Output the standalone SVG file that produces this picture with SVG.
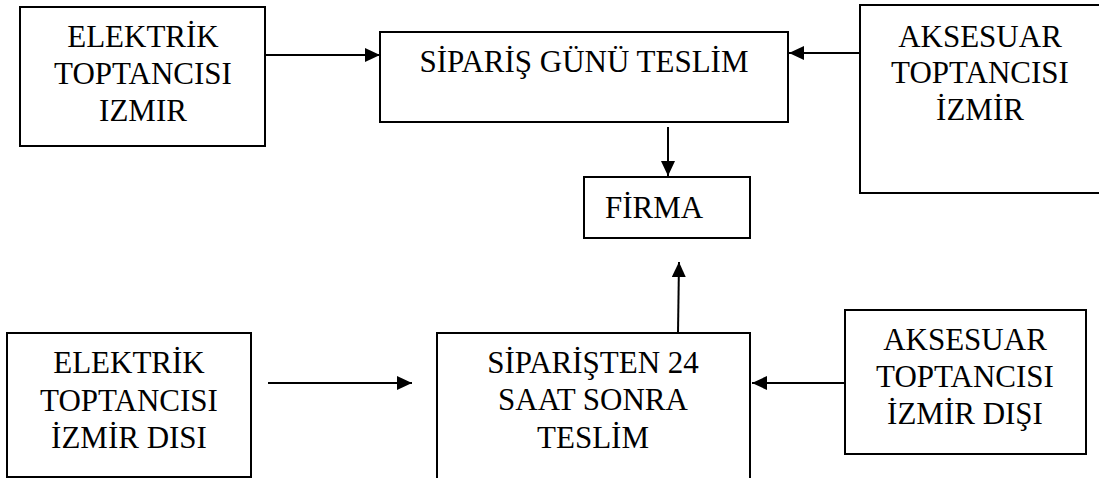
<svg xmlns="http://www.w3.org/2000/svg" width="1099" height="478" viewBox="0 0 1099 478">
<defs>
<style>
.box{fill:#fff;stroke:#000;stroke-width:2}
.t{font-family:'Liberation Serif',serif;font-size:31px;fill:#000;text-anchor:middle}
.c{stroke:#000;stroke-width:2;fill:none;marker-end:url(#ah)}
</style>
<marker id="ah" viewBox="0 0 15 14" refX="15" refY="7" markerWidth="15" markerHeight="14" markerUnits="userSpaceOnUse" orient="auto">
<path d="M0,0 L15,7 L0,14 Z" fill="#000"/>
</marker>
</defs>
<rect width="1099" height="478" fill="#fff"/>
<g id="n1">
<rect class="box" x="20" y="7" width="245" height="139"/>
<text class="t" x="143" y="47">ELEKTRİK</text>
<text class="t" x="143" y="84">TOPTANCISI</text>
<text class="t" x="143" y="121">IZMIR</text>
</g>
<g id="n2">
<rect class="box" x="380" y="32" width="408" height="90"/>
<text class="t" x="584" y="72">SİPARİŞ GÜNÜ TESLİM</text>
</g>
<g id="n3">
<rect class="box" x="860" y="5" width="245" height="188"/>
<text class="t" x="980" y="47">AKSESUAR</text>
<text class="t" x="980" y="83">TOPTANCISI</text>
<text class="t" x="980" y="120">İZMİR</text>
</g>
<g id="n4">
<rect class="box" x="584" y="177" width="166" height="61"/>
<text class="t" x="605" y="218" style="text-anchor:start">FİRMA</text>
</g>
<g id="n5">
<rect class="box" x="7" y="333" width="244" height="144"/>
<text class="t" x="129" y="373">ELEKTRİK</text>
<text class="t" x="129" y="411">TOPTANCISI</text>
<text class="t" x="129" y="448">İZMİR DISI</text>
</g>
<g id="n6">
<rect class="box" x="437" y="333" width="313" height="150"/>
<text class="t" x="593" y="373">SİPARİŞTEN 24</text>
<text class="t" x="593" y="410">SAAT SONRA</text>
<text class="t" x="593" y="448">TESLİM</text>
</g>
<g id="n7">
<rect class="box" x="845" y="310" width="241" height="144"/>
<text class="t" x="965" y="350">AKSESUAR</text>
<text class="t" x="965" y="387">TOPTANCISI</text>
<text class="t" x="965" y="424">İZMİR DIŞI</text>
</g>
<g id="connectors">
<line class="c" x1="265" y1="55" x2="380" y2="55"/>
<line class="c" x1="860" y1="53" x2="789" y2="53"/>
<line class="c" x1="668" y1="127" x2="668" y2="176"/>
<line class="c" x1="268" y1="383" x2="412" y2="383"/>
<line class="c" x1="678" y1="333" x2="679" y2="262"/>
<line class="c" x1="844" y1="383" x2="752" y2="383"/>
</g>
</svg>
